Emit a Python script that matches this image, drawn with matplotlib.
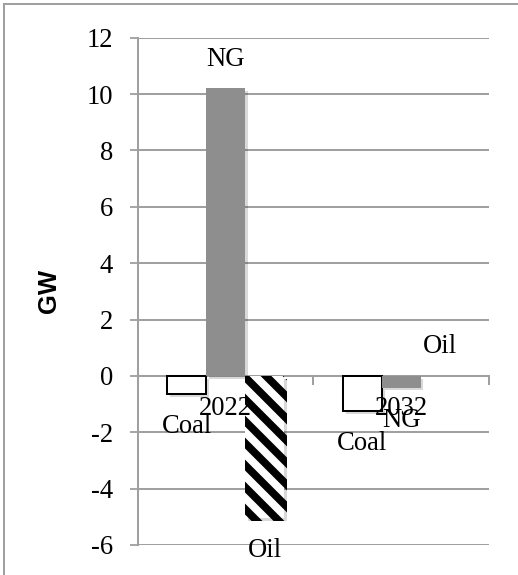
import numpy as np
import matplotlib.pyplot as plt
import matplotlib.patheffects as pe
from matplotlib.lines import Line2D

# capacity change by fuel, GW
years = ["2022", "2032"]
coal = [-0.65, -1.25]
ng = [10.2, -0.42]
oil = [-5.05, 0.0]

plt.rcParams['font.family'] = ['Liberation Serif', 'DejaVu Serif']
plt.rcParams['axes.unicode_minus'] = False
plt.rcParams['hatch.linewidth'] = 4.2

fig = plt.figure(figsize=(518 / 132, 575 / 132), dpi=132)
ax = fig.add_axes([0.2664, 0.0522, 0.6776, 0.8822])

x = np.arange(len(years))
w = 0.222
grey = '#8e8e8e'
shadow = [pe.SimplePatchShadow(offset=(1.5, -1.5), shadow_rgbFace='#000000', alpha=0.15), pe.Normal()]

b_coal = ax.bar(x - w, coal, w, color='white', edgecolor='black', linewidth=1.1, zorder=3, path_effects=shadow)
b_ng = ax.bar(x, ng, w, color=grey, linewidth=0, zorder=3, path_effects=shadow)
b_oil = ax.bar(x + w, oil, w, color='white', edgecolor='black', linewidth=0, hatch='\\\\', zorder=3, path_effects=shadow)

# data labels outside the bar ends
for bars, name in [(b_coal, 'Coal'), (b_ng, 'NG'), (b_oil, 'Oil')]:
    for rect in bars:
        v = rect.get_height() if rect.get_y() >= 0 else rect.get_y()
        cx = rect.get_x() + rect.get_width() / 2
        if v > 0 or (v == 0 and name == 'Oil'):
            ax.annotate(name, (cx, max(v, 0)), xytext=(0, 9), textcoords='offset points',
                        ha='center', va='bottom', fontsize=14.5, zorder=5)
        else:
            ax.annotate(name, (cx, v), xytext=(0, -11), textcoords='offset points',
                        ha='center', va='top', fontsize=14.5, zorder=5)

# category labels sit just under the zero line
for xi, yr in zip(x, years):
    ax.annotate(yr, (xi, 0), xytext=(0, -11), textcoords='offset points',
                ha='center', va='top', fontsize=14.5, zorder=5)

ax.set_xlim(-0.5, 1.5)
ax.set_ylim(-6, 12)
ax.set_yticks(range(-6, 13, 2))
ax.tick_params(axis='y', labelsize=14.5, length=4.5, width=1, color='#a0a0a0', pad=9)
ax.yaxis.grid(True, color='#a0a0a0', linewidth=1.1, zorder=0)
ax.set_axisbelow(True)
ax.set_xticks([])

for xv in [-0.5, 0.5, 1.5]:
    ax.plot([xv, xv], [0, -0.28], color='#a0a0a0', linewidth=1.1, zorder=1, clip_on=False)

for s in ['top', 'right', 'bottom']:
    ax.spines[s].set_visible(False)
ax.spines['left'].set_color('#a0a0a0')
ax.spines['left'].set_linewidth(1.1)
ax.axhline(0, color='#a0a0a0', linewidth=1.1, zorder=1)

ax.set_ylabel('GW', fontsize=14, fontweight='bold', family=['Liberation Sans', 'DejaVu Sans'], labelpad=14)

# frame lines along the left and top edges
fig.add_artist(Line2D([4 / 518, 4 / 518], [0, 1 - 4 / 575], transform=fig.transFigure, color='#a0a0a0', linewidth=1.1))
fig.add_artist(Line2D([4 / 518, 1], [1 - 4 / 575, 1 - 4 / 575], transform=fig.transFigure, color='#a0a0a0', linewidth=1.1))

fig.savefig('out.png', dpi=132)
